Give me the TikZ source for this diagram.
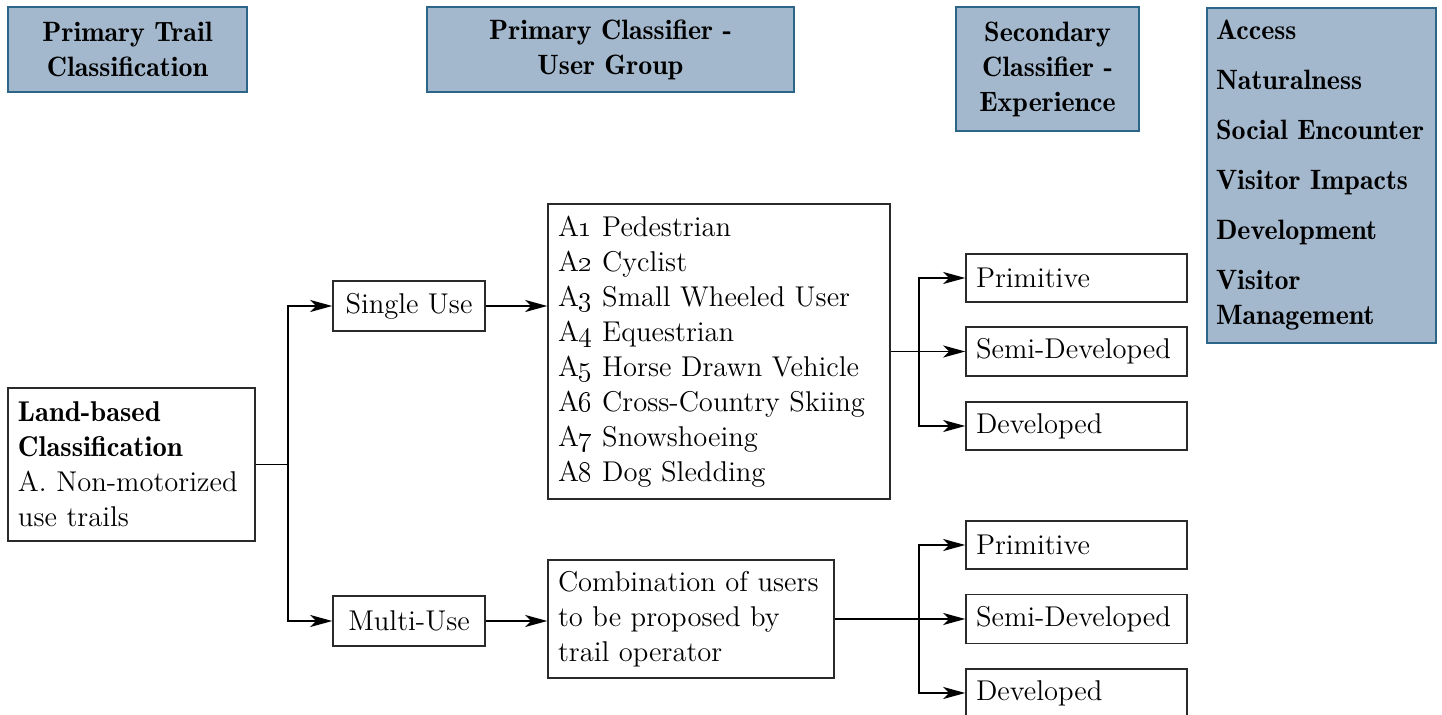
\documentclass[tikz,border=0pt]{standalone}
\usetikzlibrary{arrows.meta}
\definecolor{hdrfill}{HTML}{A3B8CD}
\definecolor{hdrline}{HTML}{2B6587}
\definecolor{boxline}{HTML}{2A2A2A}
\newcommand{\osn}[1]{\oldstylenums{#1}}
\newcommand{\bld}{\fontseries{b}\selectfont}
\begin{document}
\begin{tikzpicture}[x=0.5pt,y=-0.5pt,
  hdr/.style={draw=hdrline, fill=hdrfill, line width=0.8pt, inner sep=0pt, align=center,
    font=\fontsize{14}{17.5}\selectfont\bld},
  box/.style={draw=boxline, line width=0.75pt, inner sep=0pt,
    font=\fontsize{14.3}{17.5}\selectfont},
  lbox/.style={box, align=left, inner xsep=5pt},
  arr/.style={line width=0.75pt, -{Stealth[length=11pt,width=6pt,inset=3pt]}},
  ln/.style={line width=0.75pt}
]
\useasboundingbox (0,0) rectangle (1442,715);
% headers
\node[hdr, minimum width=119.5pt, minimum height=42.5pt] (h1) at (127.5,49.5) {Primary Trail\\Classification};
\node[hdr, minimum width=183.5pt, minimum height=42.5pt] (h2) at (610.5,49.5) {Primary Classifier -\\User Group};
\node[hdr, minimum width=91.5pt, minimum height=62pt] (h3) at (1047.5,69) {Secondary\\Classifier -\\Experience};
\node[hdr, minimum width=114.5pt, minimum height=167.5pt, align=left, text width=105.5pt, inner xsep=4.5pt] (h4) at (1321.5,175.5)
  {Access\\[7.5pt]Naturalness\\[7.5pt]Social Encounter\\[7.5pt]Visitor Impacts\\[7.5pt]Development\\[7.5pt]Visitor\\Management};
% main boxes
\node[lbox, minimum width=123.5pt, minimum height=76.5pt, text width=113.5pt] (land) at (131.5,464.5)
  {{\bld Land-based}\\{\bld Classification}\\A. Non-motorized\\use trails};
\node[box, minimum width=76pt, minimum height=25pt] (single) at (409,306) {Single Use};
\node[box, minimum width=76pt, minimum height=25pt] (multi) at (409,621) {Multi-Use};
\node[lbox, minimum width=171pt, minimum height=147.5pt, text width=161pt] (users) at (719,351.5)
  {A\osn{1} Pedestrian\\A\osn{2} Cyclist\\A\osn{3} Small Wheeled User\\A\osn{4} Equestrian\\A\osn{5} Horse Drawn Vehicle\\A\osn{6} Cross-Country Skiing\\A\osn{7} Snowshoeing\\A\osn{8} Dog Sledding};
\node[lbox, minimum width=143pt, minimum height=59pt, text width=133pt] (combo) at (691,619)
  {Combination of users\\to be proposed by\\trail operator};
% experience boxes
\node[lbox, minimum width=110.5pt, minimum height=24pt, text width=100.5pt] (p1) at (1076.5,278) {Primitive};
\node[lbox, minimum width=110.5pt, minimum height=24.5pt, text width=100.5pt] (s1) at (1076.5,351.5) {Semi-Developed};
\node[lbox, minimum width=110.5pt, minimum height=24pt, text width=100.5pt] (d1) at (1076.5,426) {Developed};
\node[lbox, minimum width=110.5pt, minimum height=24pt, text width=100.5pt] (p2) at (1076.5,545) {Primitive};
\node[lbox, minimum width=110.5pt, minimum height=24.5pt, text width=100.5pt] (s2) at (1076.5,619) {Semi-Developed};
\node[lbox, minimum width=110.5pt, minimum height=24pt, text width=100.5pt] (d2) at (1076.5,693) {Developed};
% connectors
\coordinate (j1) at ([xshift=16pt]land.east);
\draw[ln] (land.east) -- (j1);
\draw[arr] (j1) |- (single.west);
\draw[arr] (j1) |- (multi.west);
\draw[arr] (single.east) -- (users.west |- single.east);
\draw[arr] (multi.east) -- (combo.west |- multi.east);
\coordinate (j2) at ([xshift=14pt]users.east);
\draw[ln] (users.east) -- (j2);
\draw[arr] (j2) |- (p1.west);
\draw[arr] (j2) -- (s1.west);
\draw[arr] (j2) |- (d1.west);
\coordinate (j3) at (j2 |- combo.east);
\draw[ln] (combo.east) -- (j3);
\draw[arr] (j3) |- (p2.west);
\draw[arr] (j3) -- (s2.west);
\draw[arr] (j3) |- (d2.west);
\end{tikzpicture}
\end{document}
